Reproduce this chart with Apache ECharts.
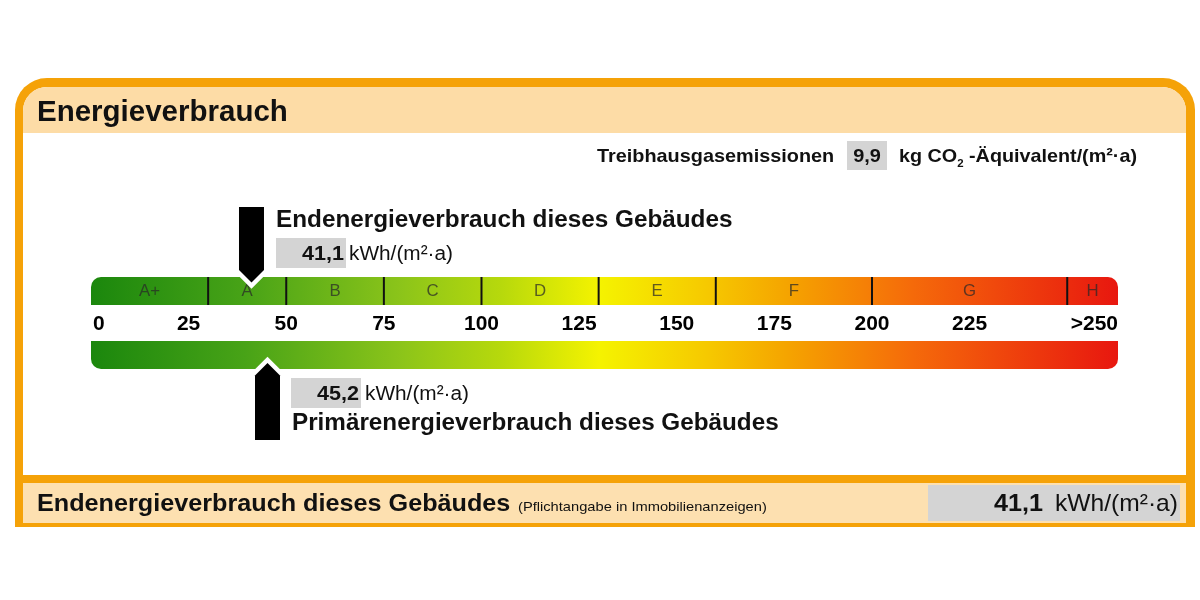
<!DOCTYPE html>
<html><head><meta charset="utf-8">
<script src="https://cdn.jsdelivr.net/npm/echarts@6/dist/echarts.min.js"></script>
<style>html,body{margin:0;padding:0;background:#fff}#c{width:1200px;height:600px}</style>
</head><body><div id="c"></div>
<script>
// ---- data ----
const classNames = ['A+', 'A', 'B', 'C', 'D', 'E', 'F', 'G', 'H'];
const classBounds = [0, 30, 50, 75, 100, 130, 160, 200, 250, 263];
const tickValues = [0, 25, 50, 75, 100, 125, 150, 175, 200, 225, 250];
const tickLabels = ['0', '25', '50', '75', '100', '125', '150', '175', '200', '225', '>250'];
const endEnergy = 41.1;       // kWh/(m²·a)
const primaryEnergy = 45.2;   // kWh/(m²·a)
const ghgEmissions = 9.9;     // kg CO2-Äquivalent/(m²·a)

// ---- style ----
const FONT = '"Liberation Sans", Arial, Helvetica, sans-serif';
const ORANGE = '#F5A208', PEACH = '#FDDCA6', PEACH2 = '#FDE0B0', GRAY = '#D4D4D4';
const STOPS = [
  { offset: 0.00, color: '#1B870D' },
  { offset: 0.15, color: '#48A317' },
  { offset: 0.30, color: '#8BC41A' },
  { offset: 0.40, color: '#B7D90C' },
  { offset: 0.495, color: '#F5F300' },
  { offset: 0.60, color: '#F6C900' },
  { offset: 0.68, color: '#F5A300' },
  { offset: 0.80, color: '#F56A0A' },
  { offset: 1.00, color: '#E8170F' }
];
const BAR1_TOP = 277, BAR2_TOP = 341, BAR_H = 28;
const fmt = v => v.toFixed(1).replace('.', ',');
const scaleMax = classBounds[classBounds.length - 1];

function grad(api) {
  const x0 = api.coord([0, 0])[0], x1 = api.coord([scaleMax, 0])[0];
  return new echarts.graphic.LinearGradient(x0, 0, x1, 0, STOPS, true);
}
function T(text, x, y, size, o) {
  o = o || {};
  return { type: 'text', z: 10, x, y, scaleX: o.sx || 1,
    style: { text, x: 0, y: 0, align: o.align || 'left', verticalAlign: 'middle',
      font: (o.bold ? 'bold ' : '') + size + 'px ' + FONT, fill: o.fill || '#111' } };
}

const chart = echarts.init(document.getElementById('c'), null, { renderer: 'canvas' });
const classData = classNames.map((n, i) => [classBounds[i], classBounds[i + 1]]);

const option = {
  animation: false,
  grid: { left: 91, right: 82, top: 100, bottom: 100 },
  xAxis: { type: 'value', min: 0, max: scaleMax, show: false },
  yAxis: { type: 'value', min: 0, max: 1, show: false },
  series: [
    { // class segments of upper bar
      type: 'custom', z: 3,
      data: classData,
      renderItem(params, api) {
        const i = params.dataIndex, n = classNames.length;
        const x0 = api.coord([api.value(0), 0])[0], x1 = api.coord([api.value(1), 0])[0];
        const ch = [{
          type: 'rect',
          shape: { x: x0, y: BAR1_TOP, width: x1 - x0, height: BAR_H, r: [i === 0 ? 10 : 0, i === n - 1 ? 10 : 0, 0, 0] },
          style: { fill: grad(api) }
        }];
        if (i > 0) ch.push({ type: 'line', shape: { x1: x0, y1: BAR1_TOP, x2: x0, y2: BAR1_TOP + BAR_H }, style: { stroke: '#111', lineWidth: 2 } });
        ch.push({ type: 'text', x: (x0 + x1) / 2, y: BAR1_TOP + BAR_H / 2 + 1, scaleX: 1.05,
          style: { text: classNames[i], x: 0, y: 0, align: 'center', verticalAlign: 'middle', font: '16px ' + FONT, fill: 'rgba(40,40,40,0.72)' } });
        return { type: 'group', children: ch };
      }
    },
    { // lower continuous bar
      type: 'custom', z: 3,
      data: [[0, scaleMax]],
      renderItem(params, api) {
        const x0 = api.coord([api.value(0), 0])[0], x1 = api.coord([api.value(1), 0])[0];
        return { type: 'rect', shape: { x: x0, y: BAR2_TOP, width: x1 - x0, height: BAR_H, r: [0, 0, 10, 10] }, style: { fill: grad(api) } };
      }
    },
    { // tick labels
      type: 'custom', z: 3,
      data: tickValues.map(v => [v]),
      renderItem(params, api) {
        const i = params.dataIndex, last = tickValues.length - 1;
        let x = api.coord([api.value(0), 0])[0], align = 'center';
        if (i === 0) { x += 2; align = 'left'; }
        if (i === last) { x = api.coord([scaleMax, 0])[0]; align = 'right'; }
        return { type: 'text', x, y: 324, scaleX: 1.05,
          style: { text: tickLabels[i], x: 0, y: 0, align, verticalAlign: 'middle', font: 'bold 20px ' + FONT, fill: '#000' } };
      }
    },
    { // arrows
      type: 'custom', z: 4,
      data: [[endEnergy, 0], [primaryEnergy, 1]],
      renderItem(params, api) {
        const cx = api.coord([api.value(0), 0])[0], w = 12.5;
        let pts;
        if (api.value(1) === 0) {
          pts = [[cx - w, 207], [cx + w, 207], [cx + w, 270], [cx, 282.5], [cx - w, 270]];
        } else {
          pts = [[cx - w, 440], [cx + w, 440], [cx + w, 375.5], [cx, 363], [cx - w, 375.5]];
        }
        return { type: 'group', children: [
          { type: 'polygon', shape: { points: pts }, style: { fill: '#fff', stroke: '#fff', lineWidth: 9, lineJoin: 'miter' } },
          { type: 'polygon', shape: { points: pts }, style: { fill: '#000' } }
        ] };
      }
    }
  ],
  graphic: [
    // frame
    { type: 'rect', z: 0, shape: { x: 15, y: 78, width: 1180, height: 449, r: [32, 32, 0, 0] }, style: { fill: ORANGE } },
    { type: 'rect', z: 0, shape: { x: 23, y: 87, width: 1163, height: 388, r: [24, 24, 0, 0] }, style: { fill: '#fff' } },
    { type: 'rect', z: 0, shape: { x: 23, y: 87, width: 1163, height: 46, r: [24, 24, 0, 0] }, style: { fill: PEACH } },
    { type: 'rect', z: 0, shape: { x: 23, y: 483, width: 1163, height: 40 }, style: { fill: PEACH2 } },
    T('Energieverbrauch', 37, 113, 29.5, { bold: true }),
    // GHG line
    T('Treibhausgasemissionen', 597, 157, 19, { bold: true, sx: 1.045 }),
    { type: 'rect', z: 9, shape: { x: 847, y: 141, width: 40, height: 29 }, style: { fill: GRAY } },
    T(fmt(ghgEmissions), 867, 157, 19, { bold: true, align: 'center', sx: 1.05 }),
    { type: 'text', z: 10, x: 899, y: 157, scaleX: 1.04,
      style: { text: '{b|kg CO}{s|2}{b| -Äquivalent/(m²·a)}', x: 0, y: 0, verticalAlign: 'middle',
        rich: { b: { font: 'bold 19px ' + FONT, fill: '#111', height: 24, verticalAlign: 'middle' },
                s: { font: 'bold 11px ' + FONT, fill: '#111', padding: [11, 0, 0, 0], verticalAlign: 'bottom' } } } },
    // upper annotation
    T('Endenergieverbrauch dieses Gebäudes', 276, 221, 23.5, { bold: true, sx: 1.034 }),
    { type: 'rect', z: 9, shape: { x: 276, y: 238, width: 70, height: 30 }, style: { fill: GRAY } },
    T(fmt(endEnergy), 344, 254, 20, { bold: true, align: 'right', sx: 1.08 }),
    T('kWh/(m²·a)', 349, 254, 20, { sx: 1.04 }),
    // lower annotation
    { type: 'rect', z: 9, shape: { x: 291, y: 378, width: 70, height: 30 }, style: { fill: GRAY } },
    T(fmt(primaryEnergy), 359, 394, 20, { bold: true, align: 'right', sx: 1.08 }),
    T('kWh/(m²·a)', 365, 394, 20, { sx: 1.04 }),
    T('Primärenergieverbrauch dieses Gebäudes', 292, 424, 23.5, { bold: true, sx: 1.032 }),
    // bottom band
    T('Endenergieverbrauch dieses Gebäudes', 37, 504, 24, { bold: true, sx: 1.05 }),
    T('(Pflichtangabe in Immobilienanzeigen)', 518, 507, 13.5, { sx: 1.087 }),
    { type: 'rect', z: 9, shape: { x: 928, y: 485, width: 252, height: 36 }, style: { fill: GRAY } },
    T(fmt(endEnergy), 1043, 504, 24, { bold: true, align: 'right', sx: 1.05 }),
    T('kWh/(m²·a)', 1055, 504, 24, { sx: 1.025 })
  ]
};
chart.setOption(option);
</script>
</body></html>
